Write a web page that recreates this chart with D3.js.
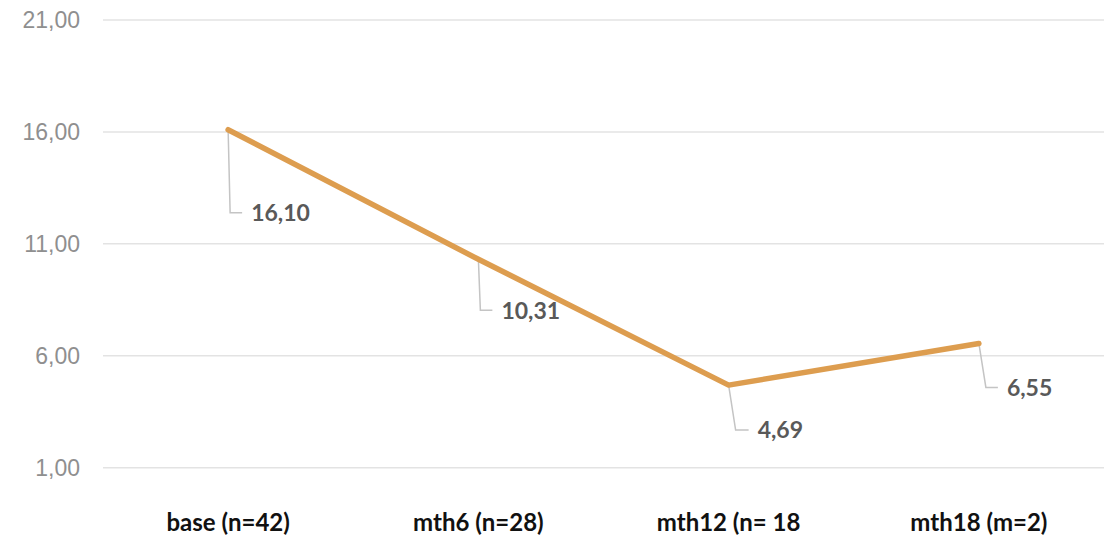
<!DOCTYPE html>
<html>
<head>
<meta charset="utf-8">
<script src="https://cdn.jsdelivr.net/npm/d3@7"></script>
<style>
  body { margin: 0; background: #fff; }
  svg { display: block; }
</style>
</head>
<body>
<script>
// data
var categories = ["base (n=42)", "mth6 (n=28)", "mth12 (n= 18", "mth18 (m=2)"];
var values = [16.10, 10.31, 4.69, 6.55];
var yTicks = [1, 6, 11, 16, 21];

// label placement (pixels below point, leader reach)
var labelDrop = [83, 51, 45, 44];
var leaderSlant = [2, 2, 7, 7];
var labelGap = [14, 14, 20, 19];

var width = 1112;
var height = 540;
var margin = {top: 20, right: 8, bottom: 73, left: 103};

var svg = d3.select("body").append("svg")
    .attr("width", width)
    .attr("height", height);

var x = d3.scaleBand()
    .domain(categories)
    .range([margin.left, width - margin.right]);

var y = d3.scaleLinear()
    .domain([1, 21])
    .range([height - margin.bottom + 0.7, margin.top]);

var fmt = function(v) { return d3.format(".2f")(v).replace(".", ","); };

// gridlines
svg.append("g").selectAll("line")
    .data(yTicks)
    .enter().append("line")
    .attr("x1", margin.left)
    .attr("x2", width - margin.right)
    .attr("y1", function(d) { return y(d); })
    .attr("y2", function(d) { return y(d); })
    .attr("stroke", "#e3e3e3")
    .attr("stroke-width", 1.5);

// y axis labels
svg.append("g").selectAll("text")
    .data(yTicks)
    .enter().append("text")
    .attr("x", 80)
    .attr("y", function(d) { return y(d); })
    .attr("dy", "0.36em")
    .attr("text-anchor", "end")
    .attr("font-family", "Liberation Sans, Arial, sans-serif")
    .attr("font-size", 23)
    .attr("fill", "#8f8f8f")
    .text(fmt);

// category labels
svg.append("g").selectAll("text")
    .data(categories)
    .enter().append("text")
    .attr("x", function(d) { return x(d) + x.bandwidth() / 2; })
    .attr("y", 531)
    .attr("text-anchor", "middle")
    .attr("font-family", "Lato, sans-serif")
    .attr("font-weight", "bold")
    .attr("font-size", 24)
    .attr("fill", "#111")
    .text(function(d) { return d; });

var cx = function(i) { return x(categories[i]) + x.bandwidth() / 2; };

// leader lines
svg.append("g").selectAll("path")
    .data(values)
    .enter().append("path")
    .attr("fill", "none")
    .attr("stroke", "#c4c4c4")
    .attr("stroke-width", 1.5)
    .attr("d", function(d, i) {
      var px = cx(i), py = y(d), ly = py + labelDrop[i];
      return "M" + px + "," + py + "L" + (px + leaderSlant[i]) + "," + ly + "L" + (px + labelGap[i]) + "," + ly;
    });

// line
var line = d3.line()
    .x(function(d, i) { return cx(i); })
    .y(function(d) { return y(d); });

svg.append("path")
    .datum(values)
    .attr("fill", "none")
    .attr("stroke", "#dd9d4f")
    .attr("stroke-width", 5.5)
    .attr("stroke-linejoin", "round")
    .attr("stroke-linecap", "round")
    .attr("d", line);

// data labels
svg.append("g").selectAll("text")
    .data(values)
    .enter().append("text")
    .attr("x", function(d, i) { return cx(i) + labelGap[i] + 9; })
    .attr("y", function(d, i) { return y(d) + labelDrop[i]; })
    .attr("dy", "0.36em")
    .attr("font-family", "Lato, sans-serif")
    .attr("font-weight", "bold")
    .attr("font-size", 23)
    .attr("fill", "#595959")
    .text(fmt);
</script>
</body>
</html>
